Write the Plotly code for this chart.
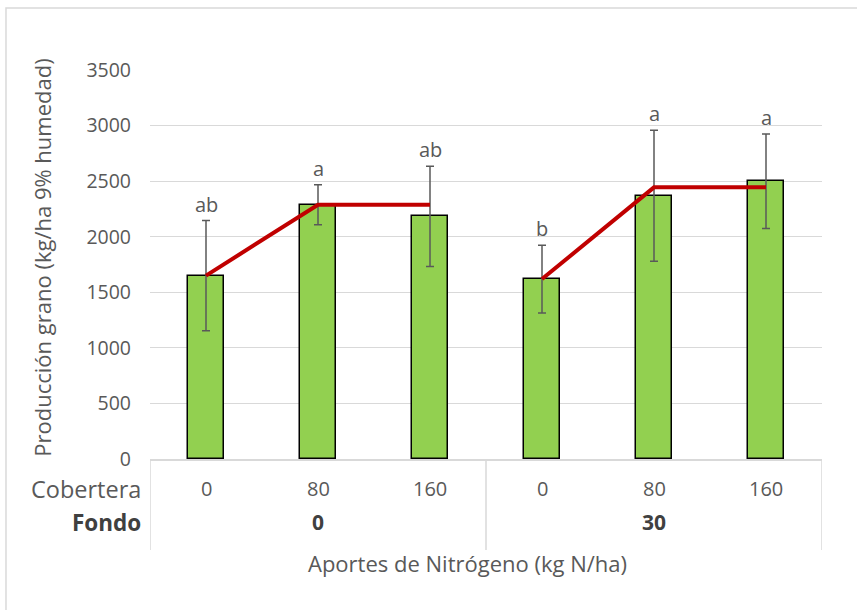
import plotly.graph_objects as go

# ---- data ----
cobertera = ["0", "80", "160", "0", "80", "160"]
fondo_groups = ["0", "30"]
produccion = [1650, 2288, 2183, 1619, 2369, 2500]
error_sd = [495, 180, 450, 305, 590, 425]
letras = ["ab", "a", "ab", "b", "a", "a"]
tendencia_fondo0 = [1650, 2288, 2288]
tendencia_fondo30 = [1619, 2444, 2444]

y_ticks = [0, 500, 1000, 1500, 2000, 2500, 3000, 3500]

FONT = "Open Sans"
GRAY = "#595959"
LINEGRAY = "#d9d9d9"

xpos = list(range(len(produccion)))

fig = go.Figure()

fig.add_trace(go.Bar(
    x=xpos, y=produccion, width=0.32,
    marker=dict(color="#92D050", line=dict(color="black", width=1.5)),
    error_y=dict(type="data", array=error_sd, visible=True,
                 color=GRAY, thickness=1.5, width=4),
    showlegend=False, hoverinfo="skip",
))

# trend lines (one per Fondo group)
line_x = xpos[0:3] + [None] + xpos[3:6]
line_y = tendencia_fondo0 + [None] + tendencia_fondo30
fig.add_trace(go.Scatter(
    x=line_x, y=line_y, mode="lines",
    line=dict(color="#C00000", width=4),
    connectgaps=False, showlegend=False, hoverinfo="skip",
))

annotations = []
# significance letters
for xi, v, e, l in zip(xpos, produccion, error_sd, letras):
    annotations.append(dict(x=xi, y=v + e, xref="x", yref="y", text=l,
                            showarrow=False, yanchor="bottom", yshift=1,
                            font=dict(family=FONT, size=20, color=GRAY)))

# category table labels
row1_y = -0.077
row2_y = -0.163
for xi, c in zip(xpos, cobertera):
    annotations.append(dict(x=xi, y=row1_y, xref="x", yref="paper", text=c,
                            showarrow=False, yanchor="middle",
                            font=dict(family=FONT, size=20, color=GRAY)))
group_size = len(cobertera) // len(fondo_groups)
for gi, f in enumerate(fondo_groups):
    center = gi * group_size + (group_size - 1) / 2
    annotations.append(dict(x=center, y=row2_y, xref="x", yref="paper",
                            text="<b>" + f + "</b>", showarrow=False,
                            yanchor="middle",
                            font=dict(family=FONT, size=21, color="#404040")))

annotations.append(dict(x=-0.011, y=row1_y, xref="paper", yref="paper",
                        text="Cobertera", showarrow=False, xanchor="right",
                        yanchor="middle",
                        font=dict(family=FONT, size=23.5, color=GRAY)))
annotations.append(dict(x=-0.011, y=row2_y, xref="paper", yref="paper",
                        text="<b>Fondo</b>", showarrow=False, xanchor="right",
                        yanchor="middle",
                        font=dict(family=FONT, size=22.5, color="#404040")))

# axis titles
annotations.append(dict(x=0.472, y=-0.267, xref="paper", yref="paper",
                        text="Aportes de Nitrógeno (kg N/ha)", showarrow=False,
                        yanchor="middle",
                        font=dict(family=FONT, size=22, color=GRAY)))
annotations.append(dict(x=-0.161, y=0.517, xref="paper", yref="paper",
                        text="Producción grano (kg/ha 9% humedad)",
                        showarrow=False, textangle=-90,
                        xanchor="center", yanchor="middle",
                        font=dict(family=FONT, size=22, color=GRAY)))

shapes = []
# table dividers
n = len(cobertera)
for bx in [-0.5, group_size - 0.5, n - 0.5]:
    shapes.append(dict(type="line", xref="x", yref="paper", x0=bx, x1=bx,
                       y0=0, y1=-0.234, line=dict(color=LINEGRAY, width=1.5)))
# outer chart border (top and left visible)
shapes.append(dict(type="rect", xref="paper", yref="paper",
                   x0=-0.2143, x1=1.5, y0=-1.0, y1=1.1594,
                   line=dict(color=LINEGRAY, width=1.5)))

fig.update_layout(
    width=857, height=610,
    margin=dict(l=150, r=35, t=70, b=151),
    paper_bgcolor="white", plot_bgcolor="white",
    bargap=0,
    xaxis=dict(range=[-0.5, n - 0.5], showticklabels=False, showgrid=False,
               zeroline=False, showline=True, linecolor=LINEGRAY, linewidth=1.5,
               fixedrange=True),
    yaxis=dict(range=[0, 3500], tickvals=y_ticks, showgrid=True,
               gridcolor=LINEGRAY, gridwidth=1.2, zeroline=False,
               showline=False, ticklabelstandoff=18,
               tickfont=dict(family=FONT, size=19.5, color=GRAY),
               fixedrange=True),
    annotations=annotations,
    shapes=shapes,
)

fig.write_html("out.html",
               config={"displayModeBar": False},
               post_script="document.body.style.margin='0';document.body.style.overflow='hidden';")
